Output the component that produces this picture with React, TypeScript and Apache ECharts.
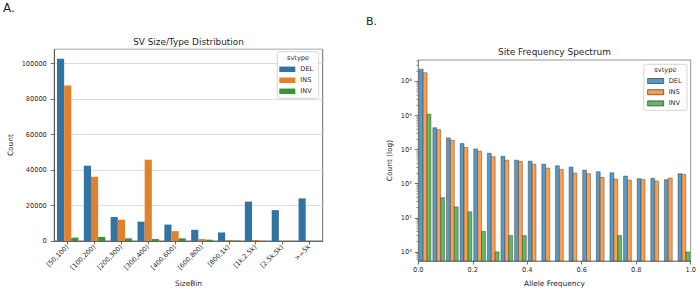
import React, { useEffect, useRef } from "react";
import * as echarts from "echarts";

// Panel A: SV counts per size bin and type
const sizeBins = ["[50,100)", "[100,200)", "[200,300)", "[300,400)", "[400,600)", "[600,800)", "[800,1k)", "[1k,2.5k)", "[2.5k,5k)", ">=5k"];
const sizeDel = [102700, 42400, 13500, 10900, 9250, 6300, 4800, 22200, 17400, 24000];
const sizeIns = [87600, 36200, 12000, 45800, 5550, 1100, 550, 550, 60, 20];
const sizeInv = [1900, 2300, 1500, 1100, 1500, 750, 200, 50, 20, 10];
const sizeTicks = [0, 20000, 40000, 60000, 80000, 100000];

// Panel B: site frequency spectrum (bin start, width 0.05)
const afBinStarts = [0.0, 0.05, 0.1, 0.15, 0.2, 0.25, 0.3, 0.35, 0.4, 0.45, 0.5, 0.55, 0.6, 0.65, 0.7, 0.75, 0.8, 0.85, 0.9, 0.95];
const afBinWidth = 0.05;
const sfsDel = [230000, 4400, 2210, 1510, 1050, 785, 640, 490, 460, 375, 336, 308, 250, 225, 210, 168, 141, 144, 132, 197];
const sfsIns = [180000, 3860, 1880, 1150, 900, 620, 490, 450, 370, 287, 263, 205, 196, 153, 137, 128, 132, 120, 147, 188];
const sfsInv = [11000, 39, 21, 15, 4, 1, 3, 3, null, null, null, null, null, null, 3, null, null, null, null, 1];
const afTicks = [0, 0.2, 0.4, 0.6, 0.8, 1.0];
const logDecades = [1, 10, 100, 1000, 10000, 100000];
const minorSteps = [2, 3, 4, 5, 6, 7, 8, 9];

const svTypes = ["DEL", "INS", "INV"];
const barColors = ["#3274a1", "#e1812c", "#3a923a"];
const histColors = ["#5799c7", "#ff9f4a", "#61b861"];
const histEdge = "rgba(40,40,40,0.8)";

const FONT = "DejaVu Sans";
const INK = "#1f1f1f";
const SUP: Record<string, string> = { "0": "⁰", "1": "¹", "2": "²", "3": "³", "4": "⁴", "5": "⁵", "6": "⁶", "-": "⁻" };

const GRID_A = { left: 54.3, top: 49.3, width: 268.4, height: 197.4 };
const GRID_B = { left: 418.3, top: 60, width: 272.4, height: 202.7 };
const SHRINK = 0.86;
const LOG_MIN = 0.54;
const LOG_MAX = 427000;

function histSeries(k: number, values: (number | null)[]) {
  return {
    type: "custom",
    name: svTypes[k],
    xAxisIndex: 1,
    yAxisIndex: 1,
    itemStyle: { color: histColors[k], borderColor: histEdge, borderWidth: 0.5 },
    encode: { x: 0, y: 1 },
    data: afBinStarts.map((s, i) => [s, values[i] === null ? "-" : values[i]]),
    renderItem: (params: any, api: any) => {
      const start = api.value(0);
      const v = api.value(1);
      if (!isFinite(v) || v <= 0) return null;
      const group = afBinWidth * SHRINK;
      const x0 = start + (afBinWidth - group) / 2 + (k * group) / 3;
      const p0 = api.coord([x0, v]);
      const p1 = api.coord([x0 + group / 3, v]);
      const bottom = params.coordSys.y + params.coordSys.height;
      return {
        type: "rect",
        shape: { x: p0[0], y: p0[1], width: p1[0] - p0[0], height: bottom - p0[1] },
        style: { fill: histColors[k], stroke: histEdge, lineWidth: 0.5 },
      };
    },
  };
}

// minor tick positions of the log axis (2..9 within each decade, inside the axis range)
const minorValues: number[] = [];
[0.1, ...logDecades].forEach((d) => minorSteps.forEach((m) => {
  const v = d * m;
  if (v > LOG_MIN && v < LOG_MAX) minorValues.push(v);
}));

const minorTickSeries = {
  type: "custom",
  name: "minor",
  xAxisIndex: 1,
  yAxisIndex: 1,
  silent: true,
  clip: false,
  encode: { x: 0, y: 1 },
  data: minorValues.map((v) => [0, v]),
  renderItem: (params: any, api: any) => {
    const p = api.coord([0, api.value(1)]);
    const x = params.coordSys.x;
    return {
      type: "line",
      shape: { x1: x - 2, y1: p[1], x2: x, y2: p[1] },
      style: { stroke: "#4a4a4a", lineWidth: 0.6 },
    };
  },
};

export default function App() {
  const ref = useRef<HTMLDivElement>(null);

  useEffect(() => {
    if (!ref.current) return;
    const chart = echarts.init(ref.current, undefined, { renderer: "svg" });

    const tickLabel = { fontFamily: FONT, fontSize: 6.6, color: INK };
    const nameStyle = { fontFamily: FONT, fontSize: 7.4, color: INK };

    const option: any = {
      animation: false,
      backgroundColor: "#ffffff",
      textStyle: { fontFamily: FONT },
      title: [
        { text: "A.", left: 3, top: 2, padding: 0, textStyle: { fontFamily: FONT, fontSize: 12, fontWeight: "normal", color: INK } },
        { text: "B.", left: 366, top: 16, padding: 0, textStyle: { fontFamily: FONT, fontSize: 11, fontWeight: "normal", color: INK } },
        { text: "SV Size/Type Distribution", left: GRID_A.left + GRID_A.width / 2, textAlign: "center", top: 37, padding: 0, textStyle: { fontFamily: FONT, fontSize: 8.9, fontWeight: "normal", color: INK } },
        { text: "Site Frequency Spectrum", left: GRID_B.left + GRID_B.width / 2, textAlign: "center", top: 47.5, padding: 0, textStyle: { fontFamily: FONT, fontSize: 9, fontWeight: "normal", color: INK } },
      ],
      grid: [
        { ...GRID_A, show: true, borderColor: "#4a4a4a", borderWidth: 0.8, backgroundColor: "transparent", containLabel: false },
        { ...GRID_B, show: true, borderColor: "#7a7a7a", borderWidth: 0.8, backgroundColor: "transparent", containLabel: false },
      ],
      legend: [
        {
          selectedMode: false,
          orient: "vertical",
          left: 279.3,
          top: 65.3,
          padding: 0,
          itemGap: 3,
          itemWidth: 16,
          itemHeight: 5.5,
          z: 6,
          textStyle: { fontFamily: FONT, fontSize: 6.6, color: INK, lineHeight: 8 },
          data: svTypes.map((n, i) => ({ name: n, icon: "rect", itemStyle: { color: barColors[i], borderWidth: 0 } })),
        },
        {
          selectedMode: false,
          orient: "vertical",
          left: 647.3,
          top: 77,
          padding: 0,
          itemGap: 3.2,
          itemWidth: 16,
          itemHeight: 5,
          z: 6,
          textStyle: { fontFamily: FONT, fontSize: 6.6, color: INK, lineHeight: 8 },
          data: svTypes.map((n, i) => ({ name: n, icon: "rect", itemStyle: { color: histColors[i], borderColor: "#333333", borderWidth: 0.7 } })),
        },
      ],
      graphic: [
        { type: "rect", z: 5, shape: { x: 277.3, y: 51.7, width: 41.4, height: 46.6, r: 2 }, style: { fill: "rgba(255,255,255,0.85)", stroke: "#cccccc", lineWidth: 0.8 } },
        { type: "text", z: 6, x: 298, y: 58.3, style: { text: "svtype", fontFamily: FONT, fontSize: 6.6, fill: INK, align: "center", verticalAlign: "middle" } },
        { type: "rect", z: 5, shape: { x: 643.8, y: 64.3, width: 43.2, height: 46, r: 2 }, style: { fill: "rgba(255,255,255,0.85)", stroke: "#cccccc", lineWidth: 0.8 } },
        { type: "text", z: 6, x: 665.4, y: 70, style: { text: "svtype", fontFamily: FONT, fontSize: 6.6, fill: INK, align: "center", verticalAlign: "middle" } },
      ],
      xAxis: [
        {
          type: "category",
          gridIndex: 0,
          data: sizeBins,
          name: "SizeBin",
          nameLocation: "middle",
          nameGap: 39,
          nameTextStyle: nameStyle,
          axisLine: { show: true, lineStyle: { color: "#4a4a4a", width: 0.8 } },
          axisTick: { show: true, alignWithLabel: true, length: 3.5, lineStyle: { color: "#4a4a4a", width: 0.8 } },
          axisLabel: { ...tickLabel, rotate: 45, interval: 0, margin: 5 },
          splitLine: { show: false },
        },
        {
          type: "value",
          gridIndex: 1,
          min: afTicks[0],
          max: afTicks[afTicks.length - 1],
          interval: 0.2,
          name: "Allele Frequency",
          nameLocation: "middle",
          nameGap: 19,
          nameTextStyle: nameStyle,
          axisLine: { show: true, lineStyle: { color: "#7a7a7a", width: 0.8 } },
          axisTick: { show: true, length: 3.5, lineStyle: { color: "#4a4a4a", width: 0.8 } },
          axisLabel: { ...tickLabel, margin: 5.5, formatter: (v: number) => v.toFixed(1) },
          splitLine: { show: false },
        },
      ],
      yAxis: [
        {
          type: "value",
          gridIndex: 0,
          min: sizeTicks[0],
          max: 108000,
          interval: 20000,
          name: "Count",
          nameLocation: "middle",
          nameGap: 40,
          nameTextStyle: nameStyle,
          axisLine: { show: true, lineStyle: { color: "#4a4a4a", width: 0.8 } },
          axisTick: { show: true, length: 3.5, lineStyle: { color: "#4a4a4a", width: 0.8 } },
          axisLabel: { ...tickLabel, margin: 7.5, showMaxLabel: false, formatter: (v: number) => String(v) },
          splitLine: { show: true, lineStyle: { color: "#d4d4d4", width: 0.8 } },
        },
        {
          type: "log",
          gridIndex: 1,
          logBase: 10,
          min: LOG_MIN,
          max: LOG_MAX,
          name: "Count (log)",
          nameLocation: "middle",
          nameGap: 25.6,
          nameTextStyle: nameStyle,
          axisLine: { show: true, lineStyle: { color: "#7a7a7a", width: 0.8 } },
          axisTick: { show: true, length: 3.5, lineStyle: { color: "#4a4a4a", width: 0.8 } },
          axisLabel: {
            ...tickLabel,
            margin: 6.5,
            showMinLabel: false,
            showMaxLabel: false,
            formatter: (v: number) => {
              const e = Math.round(Math.log10(v));
              return "10" + String(e).split("").map((c) => SUP[c] || c).join("");
            },
          },
          splitLine: { show: false },
        },
      ],
      series: [
        ...[sizeDel, sizeIns, sizeInv].map((vals, k) => ({
          type: "bar",
          name: svTypes[k],
          xAxisIndex: 0,
          yAxisIndex: 0,
          data: vals,
          barGap: "0%",
          barCategoryGap: "20%",
          itemStyle: { color: barColors[k] },
        })),
        histSeries(0, sfsDel),
        histSeries(1, sfsIns),
        histSeries(2, sfsInv),
        minorTickSeries,
      ],
    };

    chart.setOption(option);
    return () => chart.dispose();
  }, []);

  return <div ref={ref} style={{ position: "absolute", left: 0, top: 0, width: 700, height: 292 }} />;
}
